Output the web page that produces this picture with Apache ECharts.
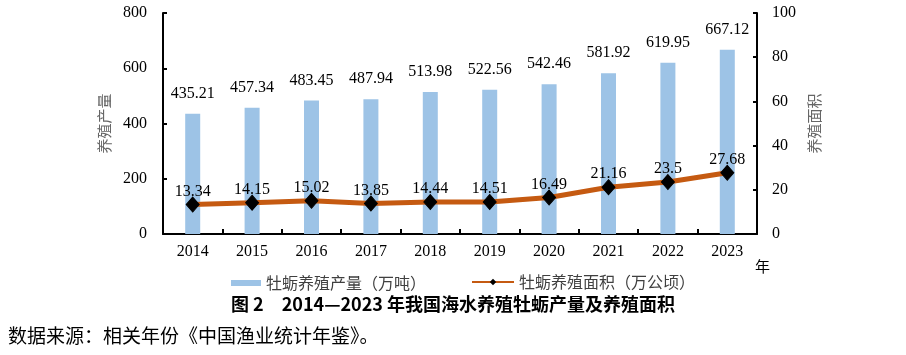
<!DOCTYPE html>
<html>
<head>
<meta charset="utf-8">
<script src="https://cdn.jsdelivr.net/npm/echarts@6/dist/echarts.min.js"></script>
<style>
html,body{margin:0;padding:0;background:#fff;}
#chart{width:906px;height:355px;}
</style>
</head>
<body>
<div id="chart"></div>
<script>
var categories = ['2014','2015','2016','2017','2018','2019','2020','2021','2022','2023'];
var outputValues = [435.21,457.34,483.45,487.94,513.98,522.56,542.46,581.92,619.95,667.12];
var areaValues = [13.34,14.15,15.02,13.85,14.44,14.51,16.49,21.16,23.5,27.68];
var leftTicks = {min:0,max:800,interval:200};
var rightTicks = {min:0,max:100,interval:20};
var barName = '牡蛎养殖产量（万吨）';
var lineName = '牡蛎养殖面积（万公顷）';
var leftAxisName = '养殖产量';
var rightAxisName = '养殖面积';
var titleText = '图 2　2014—2023 年我国海水养殖牡蛎产量及养殖面积';
var sourceText = '数据来源：相关年份《中国渔业统计年鉴》。';

var serif = '"Liberation Serif","Times New Roman",serif';
var cjk = '"Noto Sans CJK SC","Noto Sans",sans-serif';

var chart = echarts.init(document.getElementById('chart'));
chart.setOption({
  animation:false,
  backgroundColor:'#fff',
  grid:{left:163,right:149,top:13,bottom:121,containLabel:false},
  legend:[
    {data:[barName],left:226,top:270,itemWidth:30,itemHeight:6,itemGap:0,
     textStyle:{fontFamily:cjk,fontSize:16,color:'#404040'},icon:'rect'},
    {data:[lineName],left:466,top:269,itemWidth:42,itemHeight:8,
     textStyle:{fontFamily:cjk,fontSize:16,color:'#404040'}}
  ],
  title:[
    {text:titleText,left:'center',top:290,
     textStyle:{fontFamily:cjk,fontSize:18,fontWeight:'bold',color:'#000'}},
    {text:sourceText,left:3,top:321,
     textStyle:{fontFamily:cjk,fontSize:19,fontWeight:'normal',color:'#000'}}
  ],
  graphic:[
    {type:'text',left:755,top:259,style:{text:'年',font:'15px '+cjk,fill:'#000'}}
  ],
  xAxis:{
    type:'category',data:categories,
    axisLine:{lineStyle:{color:'#000',width:2}},
    axisTick:{show:true,inside:true,length:5,lineStyle:{color:'#000',width:2}},
    axisLabel:{margin:10,fontFamily:serif,fontSize:16,color:'#000'}
  },
  yAxis:[
    {type:'value',min:leftTicks.min,max:leftTicks.max,interval:leftTicks.interval,
     name:leftAxisName,nameLocation:'middle',nameGap:51,nameRotate:90,
     nameTextStyle:{fontFamily:cjk,fontSize:15,color:'#666'},
     axisLine:{show:true,lineStyle:{color:'#000',width:2}},
     axisTick:{show:true,inside:true,length:4,lineStyle:{color:'#000',width:2}},
     splitLine:{show:false},
     axisLabel:{margin:16,fontFamily:serif,fontSize:16,color:'#000'}},
    {type:'value',min:rightTicks.min,max:rightTicks.max,interval:rightTicks.interval,
     name:rightAxisName,nameLocation:'middle',nameGap:49,nameRotate:90,
     nameTextStyle:{fontFamily:cjk,fontSize:15,color:'#666'},
     axisLine:{show:true,lineStyle:{color:'#000',width:2}},
     axisTick:{show:true,inside:true,length:4,lineStyle:{color:'#000',width:2}},
     splitLine:{show:false},
     axisLabel:{margin:15,fontFamily:serif,fontSize:16,color:'#000'}}
  ],
  series:[
    {name:barName,type:'bar',data:outputValues,barWidth:15,yAxisIndex:0,
     itemStyle:{color:'#9DC3E6'},
     label:{show:true,position:'top',distance:12,fontFamily:serif,fontSize:16,color:'#000'}},
    {name:lineName,type:'line',data:areaValues,yAxisIndex:1,
     lineStyle:{color:'#C55A11',width:5},
     itemStyle:{color:'#000',borderColor:'#000'},
     symbol:'diamond',symbolSize:[13,15],
     label:{show:true,position:'top',distance:-3,fontFamily:serif,fontSize:16,color:'#000'},
     z:5}
  ]
});
</script>
</body>
</html>
